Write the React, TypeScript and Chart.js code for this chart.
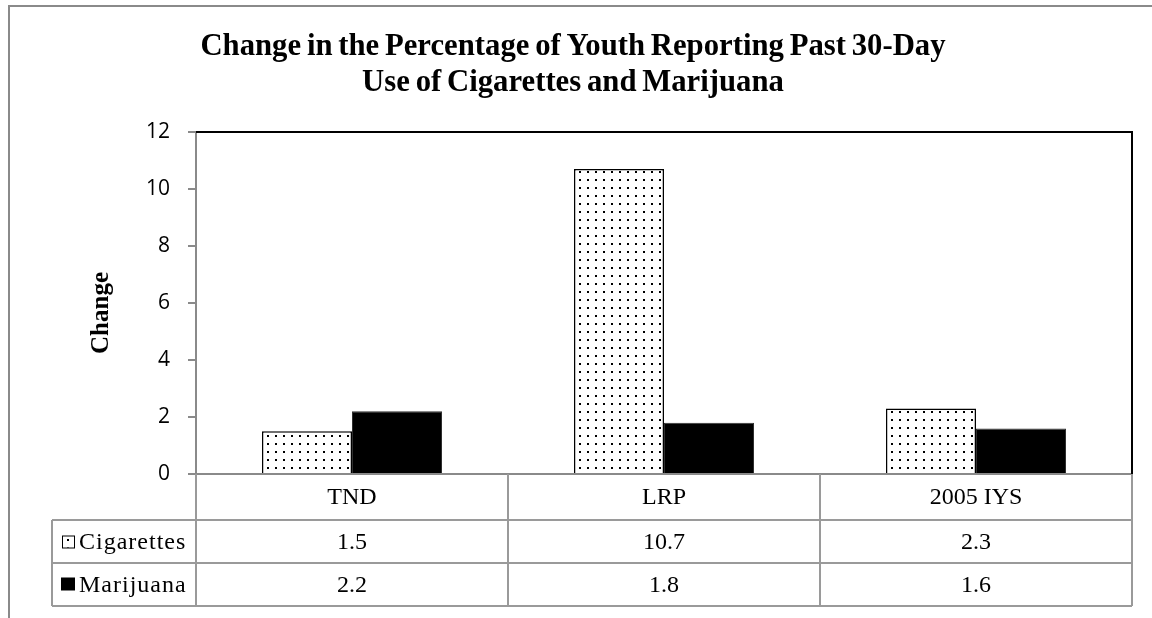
import React, { useEffect, useRef } from 'react';
import { Chart, registerables } from 'chart.js';

Chart.register(...registerables);

// ---- data ----
const titleLines = [
  'Change in the Percentage of Youth Reporting Past 30-Day',
  'Use of Cigarettes and Marijuana',
];
const categories = ['TND', 'LRP', '2005 IYS'];
const seriesNames = ['Cigarettes', 'Marijuana'];
const cigarettes = [1.5, 10.7, 2.3];
const marijuana = [2.2, 1.8, 1.6];
const yTitle = 'Change';
const yMin = 0;
const yMax = 12;
const yStep = 2;

// ---- styling ----
const W = 1152;
const H = 618;
const SERIF = '"Liberation Serif", "Times New Roman", serif';
const SANS = '"Open Sans", "Liberation Sans", sans-serif';
const FRAME_GRAY = '#8a8a8a';
const TABLE_GRAY = '#9a9a9a';
const HEADER_H = 46;
const ROW_H = 43;
const LEGEND_COL_W = 144;
const TITLE_CENTER_X = 573;
const TITLE_BASELINES = [55, 91];
const TITLE_SQUEEZE = 0.96;

function makeDotPattern(ctx: CanvasRenderingContext2D): CanvasPattern | string {
  const tile = document.createElement('canvas');
  tile.width = 8;
  tile.height = 8;
  const g = tile.getContext('2d');
  if (!g) return '#ffffff';
  g.fillStyle = '#ffffff';
  g.fillRect(0, 0, 8, 8);
  g.fillStyle = '#000000';
  g.fillRect(3, 3, 2, 2);
  return ctx.createPattern(tile, 'repeat') || '#ffffff';
}

// Outer frame, title, plot border, data table below the axis and the rotated axis title.
function makeTablePlugin(dotFill: CanvasPattern | string) {
  return {
    id: 'excelDataTable',
    beforeDraw(chart: any) {
      const { ctx, width, height } = chart;
      ctx.save();
      ctx.fillStyle = '#ffffff';
      ctx.fillRect(0, 0, width, height);
      ctx.strokeStyle = FRAME_GRAY;
      ctx.lineWidth = 2;
      ctx.strokeRect(9, 6, width + 200, height + 200);

      // chart title, slightly condensed
      ctx.fillStyle = '#000000';
      ctx.font = `bold 32px ${SERIF}`;
      ctx.textAlign = 'center';
      ctx.textBaseline = 'alphabetic';
      (ctx as any).wordSpacing = '-2px';
      ctx.translate(TITLE_CENTER_X, 0);
      ctx.scale(TITLE_SQUEEZE, 1);
      titleLines.forEach((line, i) => {
        ctx.fillText(line, 0, TITLE_BASELINES[i]);
      });
      (ctx as any).wordSpacing = '0px';
      ctx.restore();
    },
    afterDraw(chart: any) {
      const { ctx, chartArea } = chart;
      const xs = chart.scales.x;
      const left = chartArea.left;
      const right = chartArea.right;
      const top = chartArea.top;
      const bottom = chartArea.bottom;
      const n = categories.length;
      const catW = (right - left) / n;
      const legendLeft = left - LEGEND_COL_W;
      const row1 = bottom + HEADER_H;
      const row2 = row1 + ROW_H;
      const row3 = row2 + ROW_H;

      ctx.save();
      // plot area top and right border
      ctx.strokeStyle = '#000000';
      ctx.lineWidth = 2;
      ctx.beginPath();
      ctx.moveTo(left, top);
      ctx.lineTo(right, top);
      ctx.lineTo(right, bottom);
      ctx.stroke();

      // table grid
      ctx.strokeStyle = TABLE_GRAY;
      ctx.lineWidth = 2;
      ctx.beginPath();
      [row1, row2, row3].forEach((y) => {
        ctx.moveTo(legendLeft, y);
        ctx.lineTo(right, y);
      });
      ctx.moveTo(legendLeft, row1);
      ctx.lineTo(legendLeft, row3);
      for (let i = 0; i <= n; i++) {
        const x = left + i * catW;
        ctx.moveTo(x, bottom);
        ctx.lineTo(x, row3);
      }
      ctx.stroke();

      // table values
      ctx.fillStyle = '#000000';
      ctx.font = `24px ${SERIF}`;
      ctx.textAlign = 'center';
      ctx.textBaseline = 'middle';
      const rows = [cigarettes, marijuana];
      rows.forEach((vals, r) => {
        const cy = row1 + ROW_H * r + ROW_H / 2 + 1;
        vals.forEach((v, i) => {
          ctx.fillText(v.toFixed(1), xs.getPixelForValue(i), cy);
        });
      });

      // legend keys and series names
      rows.forEach((_, r) => {
        const cy = row1 + ROW_H * r + ROW_H / 2;
        const kx = legendLeft + 10;
        if (r === 0) {
          ctx.fillStyle = dotFill as any;
          ctx.fillRect(kx, cy - 6, 12, 12);
          ctx.strokeStyle = '#000000';
          ctx.lineWidth = 1;
          ctx.strokeRect(kx + 0.5, cy - 5.5, 12, 12);
        } else {
          ctx.fillStyle = '#000000';
          ctx.fillRect(kx - 1, cy - 7, 14, 13);
        }
        ctx.fillStyle = '#000000';
        ctx.textAlign = 'left';
        (ctx as any).letterSpacing = '1px';
        ctx.fillText(seriesNames[r], legendLeft + 27, cy + 1);
        (ctx as any).letterSpacing = '0px';
      });

      // vertical axis title
      ctx.translate(102, (top + bottom) / 2 + 10);
      ctx.rotate(-Math.PI / 2);
      ctx.textAlign = 'center';
      ctx.textBaseline = 'middle';
      ctx.font = `bold 25px ${SERIF}`;
      ctx.fillText(yTitle, 0, 0);
      ctx.restore();
    },
  };
}

export default function App() {
  const canvasRef = useRef<HTMLCanvasElement | null>(null);

  useEffect(() => {
    const canvas = canvasRef.current;
    if (!canvas) return;
    const ctx = canvas.getContext('2d');
    if (!ctx) return;
    const dotFill = makeDotPattern(ctx);

    const chart = new Chart(ctx, {
      type: 'bar',
      data: {
        labels: categories,
        datasets: [
          {
            label: seriesNames[0],
            data: cigarettes,
            backgroundColor: dotFill as any,
            borderColor: '#000000',
            borderWidth: 1.5,
            categoryPercentage: 0.577,
            barPercentage: 1.0,
          },
          {
            label: seriesNames[1],
            data: marijuana,
            backgroundColor: '#000000',
            borderColor: '#303030',
            borderWidth: 1,
            categoryPercentage: 0.577,
            barPercentage: 1.0,
          },
        ],
      },
      options: {
        responsive: false,
        animation: false,
        devicePixelRatio: 1,
        layout: { padding: { left: 14, right: 20, top: 132, bottom: 12 } },
        plugins: {
          legend: { display: false },
          tooltip: { enabled: false },
          title: { display: false },
        },
        scales: {
          x: {
            grid: { display: false, drawTicks: false, tickLength: 0 },
            border: { display: true, color: FRAME_GRAY, width: 2 },
            ticks: {
              color: '#000000',
              font: { family: SERIF, size: 24 },
              padding: 9,
              maxRotation: 0,
            },
            afterFit: (scale: any) => {
              scale.height = HEADER_H + ROW_H * 2;
            },
          },
          y: {
            min: yMin,
            max: yMax,
            grid: {
              drawOnChartArea: false,
              drawTicks: true,
              tickLength: 8,
              color: FRAME_GRAY,
              lineWidth: 2,
            },
            border: { display: true, color: FRAME_GRAY, width: 2 },
            ticks: {
              stepSize: yStep,
              color: '#000000',
              font: { family: SANS, size: 21 },
              padding: 18,
            },
            afterFit: (scale: any) => {
              scale.width = 182;
            },
          },
        },
      },
      plugins: [makeTablePlugin(dotFill)],
    });

    return () => chart.destroy();
  }, []);

  return (
    <div style={{ position: 'absolute', left: 0, top: 0, width: W, height: H, background: '#fff' }}>
      <canvas ref={canvasRef} width={W} height={H} style={{ display: 'block', width: W, height: H }} />
    </div>
  );
}
